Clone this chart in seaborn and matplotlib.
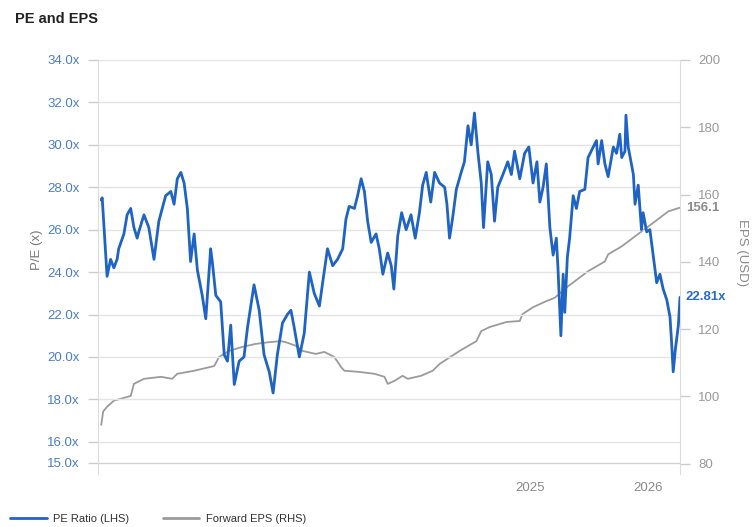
import pandas as pd
import matplotlib
matplotlib.use("Agg")
import matplotlib.pyplot as plt
from matplotlib.lines import Line2D
from matplotlib.ticker import FuncFormatter
import seaborn as sns

# PE ratio (LHS)
pe_dates = [
    "2021-05-18", "2021-05-21", "2021-06-05", "2021-06-16", "2021-06-26", "2021-07-06",
    "2021-07-11", "2021-07-27", "2021-08-06", "2021-08-17", "2021-08-27", "2021-09-06",
    "2021-09-11", "2021-09-27", "2021-10-12", "2021-10-28", "2021-11-12", "2021-12-03",
    "2021-12-19", "2021-12-29", "2022-01-08", "2022-01-19", "2022-01-29", "2022-02-08",
    "2022-02-18", "2022-03-01", "2022-03-11", "2022-03-26", "2022-04-06", "2022-04-21",
    "2022-04-26", "2022-05-07", "2022-05-22", "2022-06-02", "2022-06-12", "2022-06-22",
    "2022-07-03", "2022-07-18", "2022-08-02", "2022-08-13", "2022-09-02", "2022-09-18",
    "2022-10-03", "2022-10-19", "2022-10-31", "2022-11-13", "2022-11-29", "2022-12-14",
    "2022-12-25", "2023-01-04", "2023-01-20", "2023-02-04", "2023-02-20", "2023-03-07",
    "2023-03-23", "2023-04-02", "2023-04-17", "2023-05-03", "2023-05-18", "2023-06-03",
    "2023-06-13", "2023-06-23", "2023-07-09", "2023-07-19", "2023-07-30", "2023-08-09",
    "2023-08-19", "2023-08-30", "2023-09-14", "2023-09-24", "2023-10-05", "2023-10-20",
    "2023-10-31", "2023-11-08", "2023-11-20", "2023-12-02", "2023-12-16", "2023-12-31",
    "2024-01-13", "2024-01-26", "2024-02-05", "2024-02-16", "2024-03-01", "2024-03-13",
    "2024-03-28", "2024-04-13", "2024-04-20", "2024-04-28", "2024-05-08", "2024-05-19",
    "2024-06-03", "2024-06-13", "2024-06-24", "2024-07-04", "2024-07-14", "2024-07-25",
    "2024-08-04", "2024-08-11", "2024-08-24", "2024-09-04", "2024-09-14", "2024-09-24",
    "2024-10-10", "2024-10-25", "2024-11-05", "2024-11-15", "2024-12-01", "2024-12-16",
    "2024-12-29", "2025-01-11", "2025-01-23", "2025-02-01", "2025-02-11", "2025-02-21",
    "2025-03-04", "2025-03-14", "2025-03-24", "2025-03-29", "2025-04-07", "2025-04-14",
    "2025-04-19", "2025-04-27", "2025-05-04", "2025-05-15", "2025-05-25", "2025-06-04",
    "2025-06-20", "2025-06-30", "2025-07-16", "2025-07-26", "2025-07-31", "2025-08-11",
    "2025-08-21", "2025-08-31", "2025-09-16", "2025-09-26", "2025-10-06", "2025-10-12",
    "2025-10-22", "2025-10-25", "2025-11-01", "2025-11-17", "2025-11-22", "2025-12-02",
    "2025-12-12", "2025-12-17", "2025-12-28", "2026-01-07", "2026-01-17", "2026-01-28",
    "2026-02-07", "2026-02-17", "2026-02-28", "2026-03-10", "2026-03-15", "2026-03-20",
    "2026-03-27", "2026-04-05", "2026-04-10",
]
pe_values = [
    27.4, 27.5, 23.8, 24.6, 24.2, 24.6,
    25.1, 25.8, 26.7, 27.0, 26.1, 25.6,
    25.9, 26.7, 26.1, 24.6, 26.4, 27.6,
    27.8, 27.2, 28.4, 28.7, 28.2, 27.0,
    24.5, 25.8, 24.1, 22.9, 21.8, 25.1,
    24.5, 22.9, 22.6, 20.1, 19.8, 21.5,
    18.7, 19.8, 20.0, 21.4, 23.4, 22.2,
    20.1, 19.3, 18.3, 20.1, 21.6, 22.0,
    22.2, 21.4, 20.0, 21.1, 24.0, 23.0,
    22.4, 23.5, 25.1, 24.3, 24.6, 25.1,
    26.5, 27.1, 27.0, 27.6, 28.4, 27.8,
    26.4, 25.4, 25.8, 25.1, 23.9, 24.9,
    24.3, 23.2, 25.7, 26.8, 26.0, 26.7,
    25.6, 26.8, 28.1, 28.7, 27.3, 28.7,
    28.2, 28.0, 27.2, 25.6, 26.6, 27.9,
    28.7, 29.2, 30.9, 30.0, 31.5, 29.6,
    28.2, 26.1, 29.2, 28.6, 26.4, 28.0,
    28.6, 29.2, 28.6, 29.7, 28.4, 29.6,
    29.9, 28.2, 29.2, 27.3, 28.0, 29.1,
    26.1, 24.8, 25.6, 24.2, 21.0, 23.9,
    22.1, 24.7, 25.6, 27.6, 27.0, 27.8,
    27.9, 29.4, 29.9, 30.2, 29.1, 30.2,
    29.1, 28.5, 29.9, 29.6, 30.5, 29.4,
    29.7, 31.4, 29.9, 28.6, 27.2, 28.1,
    26.0, 26.8, 25.9, 26.0, 24.8, 23.5,
    23.9, 23.2, 22.7, 21.9, 20.7, 19.3,
    20.4, 21.5, 22.81,
]

# Forward EPS (RHS)
eps_dates = [
    "2021-05-18", "2021-05-24", "2021-06-05", "2021-06-26", "2021-08-17", "2021-08-27",
    "2021-09-27", "2021-11-19", "2021-12-23", "2022-01-08", "2022-03-01", "2022-05-02",
    "2022-05-17", "2022-06-17", "2022-07-28", "2022-09-08", "2022-10-19", "2022-11-24",
    "2022-12-09", "2023-01-10", "2023-01-30", "2023-03-12", "2023-04-07", "2023-05-08",
    "2023-05-29", "2023-06-08", "2023-07-19", "2023-09-09", "2023-10-10", "2023-10-20",
    "2023-11-10", "2023-12-05", "2023-12-21", "2024-01-31", "2024-03-07", "2024-03-28",
    "2024-05-29", "2024-07-20", "2024-08-04", "2024-08-30", "2024-10-21", "2024-12-01",
    "2024-12-09", "2025-01-11", "2025-02-21", "2025-03-19", "2025-04-29", "2025-06-30",
    "2025-08-21", "2025-08-31", "2025-10-12", "2025-12-12", "2026-01-23", "2026-03-05",
    "2026-04-10",
]
eps_values = [
    91.5, 95.5, 96.9, 98.7, 100.1, 103.7,
    105.2, 105.8, 105.2, 106.7, 107.6, 109.0,
    111.7, 113.5, 114.7, 115.6, 116.1, 116.4,
    116.1, 115.0, 113.5, 112.6, 113.2, 111.7,
    108.7, 107.6, 107.3, 106.7, 105.8, 103.7,
    104.6, 106.1, 105.2, 106.1, 107.6, 109.6,
    113.5, 116.4, 119.4, 120.6, 122.1, 122.4,
    124.4, 126.5, 128.3, 129.3, 132.7, 137.2,
    140.1, 142.2, 144.6, 149.0, 152.0, 155.0,
    156.1,
]

pe_ticks = [15, 16, 18, 20, 22, 24, 26, 28, 30, 32, 34]
eps_ticks = [80, 100, 120, 140, 160, 180, 200]
year_ticks = ["2025-01-01", "2026-01-01"]
year_labels = ["2025", "2026"]

BLUE = "#1f63c4"
GREY = "#9b9b9b"

pe_df = pd.DataFrame({"date": pd.to_datetime(pe_dates), "pe": pe_values})
eps_df = pd.DataFrame({"date": pd.to_datetime(eps_dates), "eps": eps_values})

sns.set_style("white")
plt.rcParams["font.family"] = ["Liberation Sans", "DejaVu Sans"]

fig = plt.figure(figsize=(7.55, 5.27), dpi=100)
ax = fig.add_axes([98 / 755, 1 - 474 / 527, (680 - 98) / 755, (474 - 60) / 527])
ax2 = ax.twinx()
# PE line on top of the EPS line
ax.set_zorder(ax2.get_zorder() + 1)
ax.patch.set_visible(False)
ax2.patch.set_facecolor("#efefef")

sns.lineplot(data=eps_df, x="date", y="eps", ax=ax2, color=GREY, linewidth=1.3)
sns.lineplot(data=pe_df, x="date", y="pe", ax=ax, color=BLUE, linewidth=2.0)

ax.set_xlim(pd.Timestamp("2021-05-08"), pd.Timestamp("2026-04-10"))
ax.set_ylim(14.48, 34)
ax2.set_ylim(76.9, 200)

ax.set_yticks(pe_ticks)
ax.yaxis.set_major_formatter(FuncFormatter(lambda v, p: f"{v:.1f}x"))
ax2.set_yticks(eps_ticks)
ax.set_xticks(pd.to_datetime(year_ticks))
ax.set_xticklabels(year_labels)

ax.grid(axis="y", color="#e4e4e4", linewidth=1)
ax.get_ygridlines()[0].set_color("#d2d2d2")
ax.set_axisbelow(True)

ax.tick_params(axis="y", length=7, width=1, color="#cccccc", pad=6,
               labelsize=9.5, labelcolor="#4a7dcc")
ax.tick_params(axis="x", length=0, pad=6, labelsize=9.5, labelcolor="#8a8a8a")
ax2.tick_params(axis="y", length=7, width=1, color="#cccccc", pad=6,
                labelsize=9.5, labelcolor="#9a9a9a")

for a in (ax, ax2):
    for s in a.spines.values():
        s.set_visible(False)
ax.spines["left"].set_visible(True)
ax.spines["left"].set_color("#dcdcdc")
ax2.spines["right"].set_visible(True)
ax2.spines["right"].set_color("#dcdcdc")

ax.set_xlabel("")
ax.set_ylabel("")
ax2.set_ylabel("")

# end-of-series value labels
ax2.text(1.01, eps_values[-1], f"{eps_values[-1]:.1f}", transform=ax2.get_yaxis_transform(),
         ha="left", va="center", fontsize=9.5, fontweight="bold", color="#8c8c8c")
ax.text(1.01, pe_values[-1], f"{pe_values[-1]:.2f}x", transform=ax.get_yaxis_transform(),
        ha="left", va="center", fontsize=9.5, fontweight="bold", color="#2a6ac8")

fig.text(37 / 755, 1 - 250 / 527, "P/E (x)", rotation=90, ha="center", va="center",
         fontsize=9.5, color="#777777")
fig.text(742 / 755, 1 - 253 / 527, "EPS (USD)", rotation=270, ha="center", va="center",
         fontsize=9.5, color="#8a8a8a")

fig.text(15 / 755, 1 - 19 / 527, "PE and EPS", ha="left", va="center",
         fontsize=10.5, fontweight="bold", color="#222222")

handles = [Line2D([], [], color=BLUE, lw=2), Line2D([], [], color=GREY, lw=2)]
fig.legend(handles, ["PE Ratio (LHS)", "Forward EPS (RHS)"], loc="center left",
           bbox_to_anchor=(0.0, 1 - 519 / 527), ncol=2, frameon=False, fontsize=8,
           handlelength=3.3, handletextpad=0.6, columnspacing=3.0, labelcolor="#333333")

fig.savefig("out.png", dpi=100, facecolor="white")
